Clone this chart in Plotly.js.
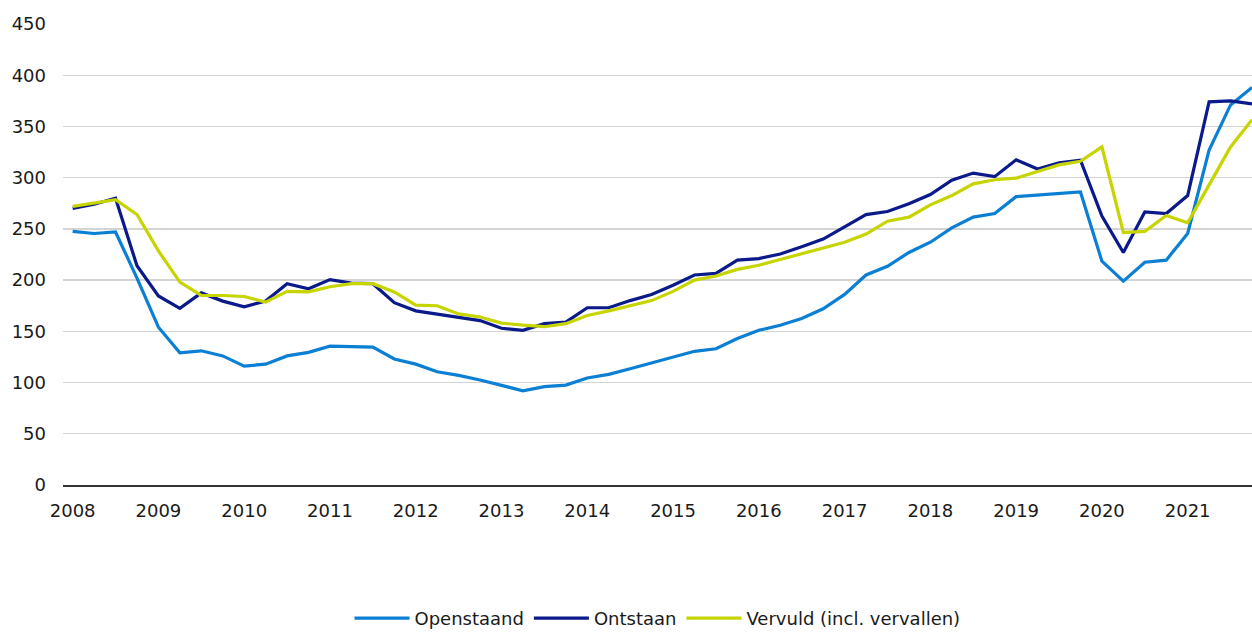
<!DOCTYPE html>
<html>
<head>
<meta charset="utf-8">
<script src="https://cdn.plot.ly/plotly-3.0.1.min.js"></script>
<style>html,body{margin:0;padding:0;background:#fff;}#chart{width:1252px;height:637px;}</style>
</head>
<body>
<div id="chart"></div>
<script>
// Quarterly data, 2008 Q1 .. 2021 Q4 (x 1000)
const years = ["2008","2009","2010","2011","2012","2013","2014","2015","2016","2017","2018","2019","2020","2021"];
const quarters = ["I","II","III","IV"];
const openstaand = [247.5,245.5,247,202, 154,129,131,126, 116,118,126,129.5, 135.5,135,134.5,123,
  118,110.5,107,102.5, 97.5,92,96,97.5, 104.5,108,113.5,119, 125,130.5,133,143,
  151,156,162.5,172, 186,205,213.5,227, 237,251,261.5,265, 281.5,283,284.5,286,
  218.5,199,217.5,219.5, 245.5,327,371,388];
const ontstaan = [270,274,280,214, 184.5,172.5,187.5,179.5, 174,179.5,196.5,191.5, 200.5,197,196.5,178,
  170,167,163.5,160.5, 153,151,157.5,159, 173,173,180,186, 195,205,206.5,219.5,
  221,225.5,232.5,240, 252,264,267,274.5, 283.5,297.5,304.5,301, 317.5,308.5,314.5,317,
  262.5,227,266.5,265, 282.5,374,375,372];
const vervuld = [272,275,278.5,264, 228.5,198,185,185, 184,178.5,189,188.5, 193.5,196.5,196.5,188.5,
  175.5,175,167,164, 158,156,154.5,157.5, 165.5,170,175,180, 189,200,204,210.5,
  214.5,220,226,231, 237,245,257.5,261.5, 273.5,282.5,294,298, 299.5,306,312.5,316,
  330,246.5,247.5,263, 256,293,330,356.5];
const seriesNames = ["Openstaand","Ontstaan","Vervuld (incl. vervallen)"];
const colors = ["#0a7fd4","#0b1a8a","#c6d400"];

const periods = [];
years.forEach(y => quarters.forEach(q => periods.push(y + " " + q)));
const xIdx = periods.map((_, i) => i);
const tickVals = years.map((_, i) => i * 4);

const allSeries = [openstaand, ontstaan, vervuld];
const traces = allSeries.map((vals, k) => ({
  type: "scatter",
  mode: "lines",
  x: xIdx,
  y: vals,
  name: seriesNames[k],
  text: periods,
  line: {color: colors[k], width: 3.2},
  hovertemplate: "%{text}: %{y}<extra>" + seriesNames[k] + "</extra>"
}));

const layout = {
  width: 1252,
  height: 637,
  margin: {l: 63, r: 0, t: 24, b: 151},
  paper_bgcolor: "#ffffff",
  plot_bgcolor: "#ffffff",
  font: {family: "DejaVu Sans, Verdana, sans-serif", size: 18, color: "#1a1a1a"},
  showlegend: true,
  legend: {
    orientation: "h",
    x: 0.5, xanchor: "center",
    y: -0.29, yanchor: "middle",
    itemwidth: 55,
    font: {size: 18},
    traceorder: "normal"
  },
  xaxis: {
    range: [-0.45, 55],
    tickmode: "array",
    tickvals: tickVals,
    ticktext: years,
    showgrid: false,
    zeroline: false,
    showline: true,
    linecolor: "#333333",
    linewidth: 1.5,
    ticks: "",
    ticklabelstandoff: 9
  },
  yaxis: {
    range: [0, 450],
    tickvals: [0,50,100,150,200,250,300,350,400,450],
    showgrid: true,
    gridcolor: "#d4d4d4",
    gridwidth: 1.3,
    zeroline: false,
    showline: false,
    ticks: "",
    ticklabelstandoff: 16
  }
};

Plotly.newPlot("chart", traces, layout, {displayModeBar: false, staticPlot: true});
</script>
</body>
</html>
